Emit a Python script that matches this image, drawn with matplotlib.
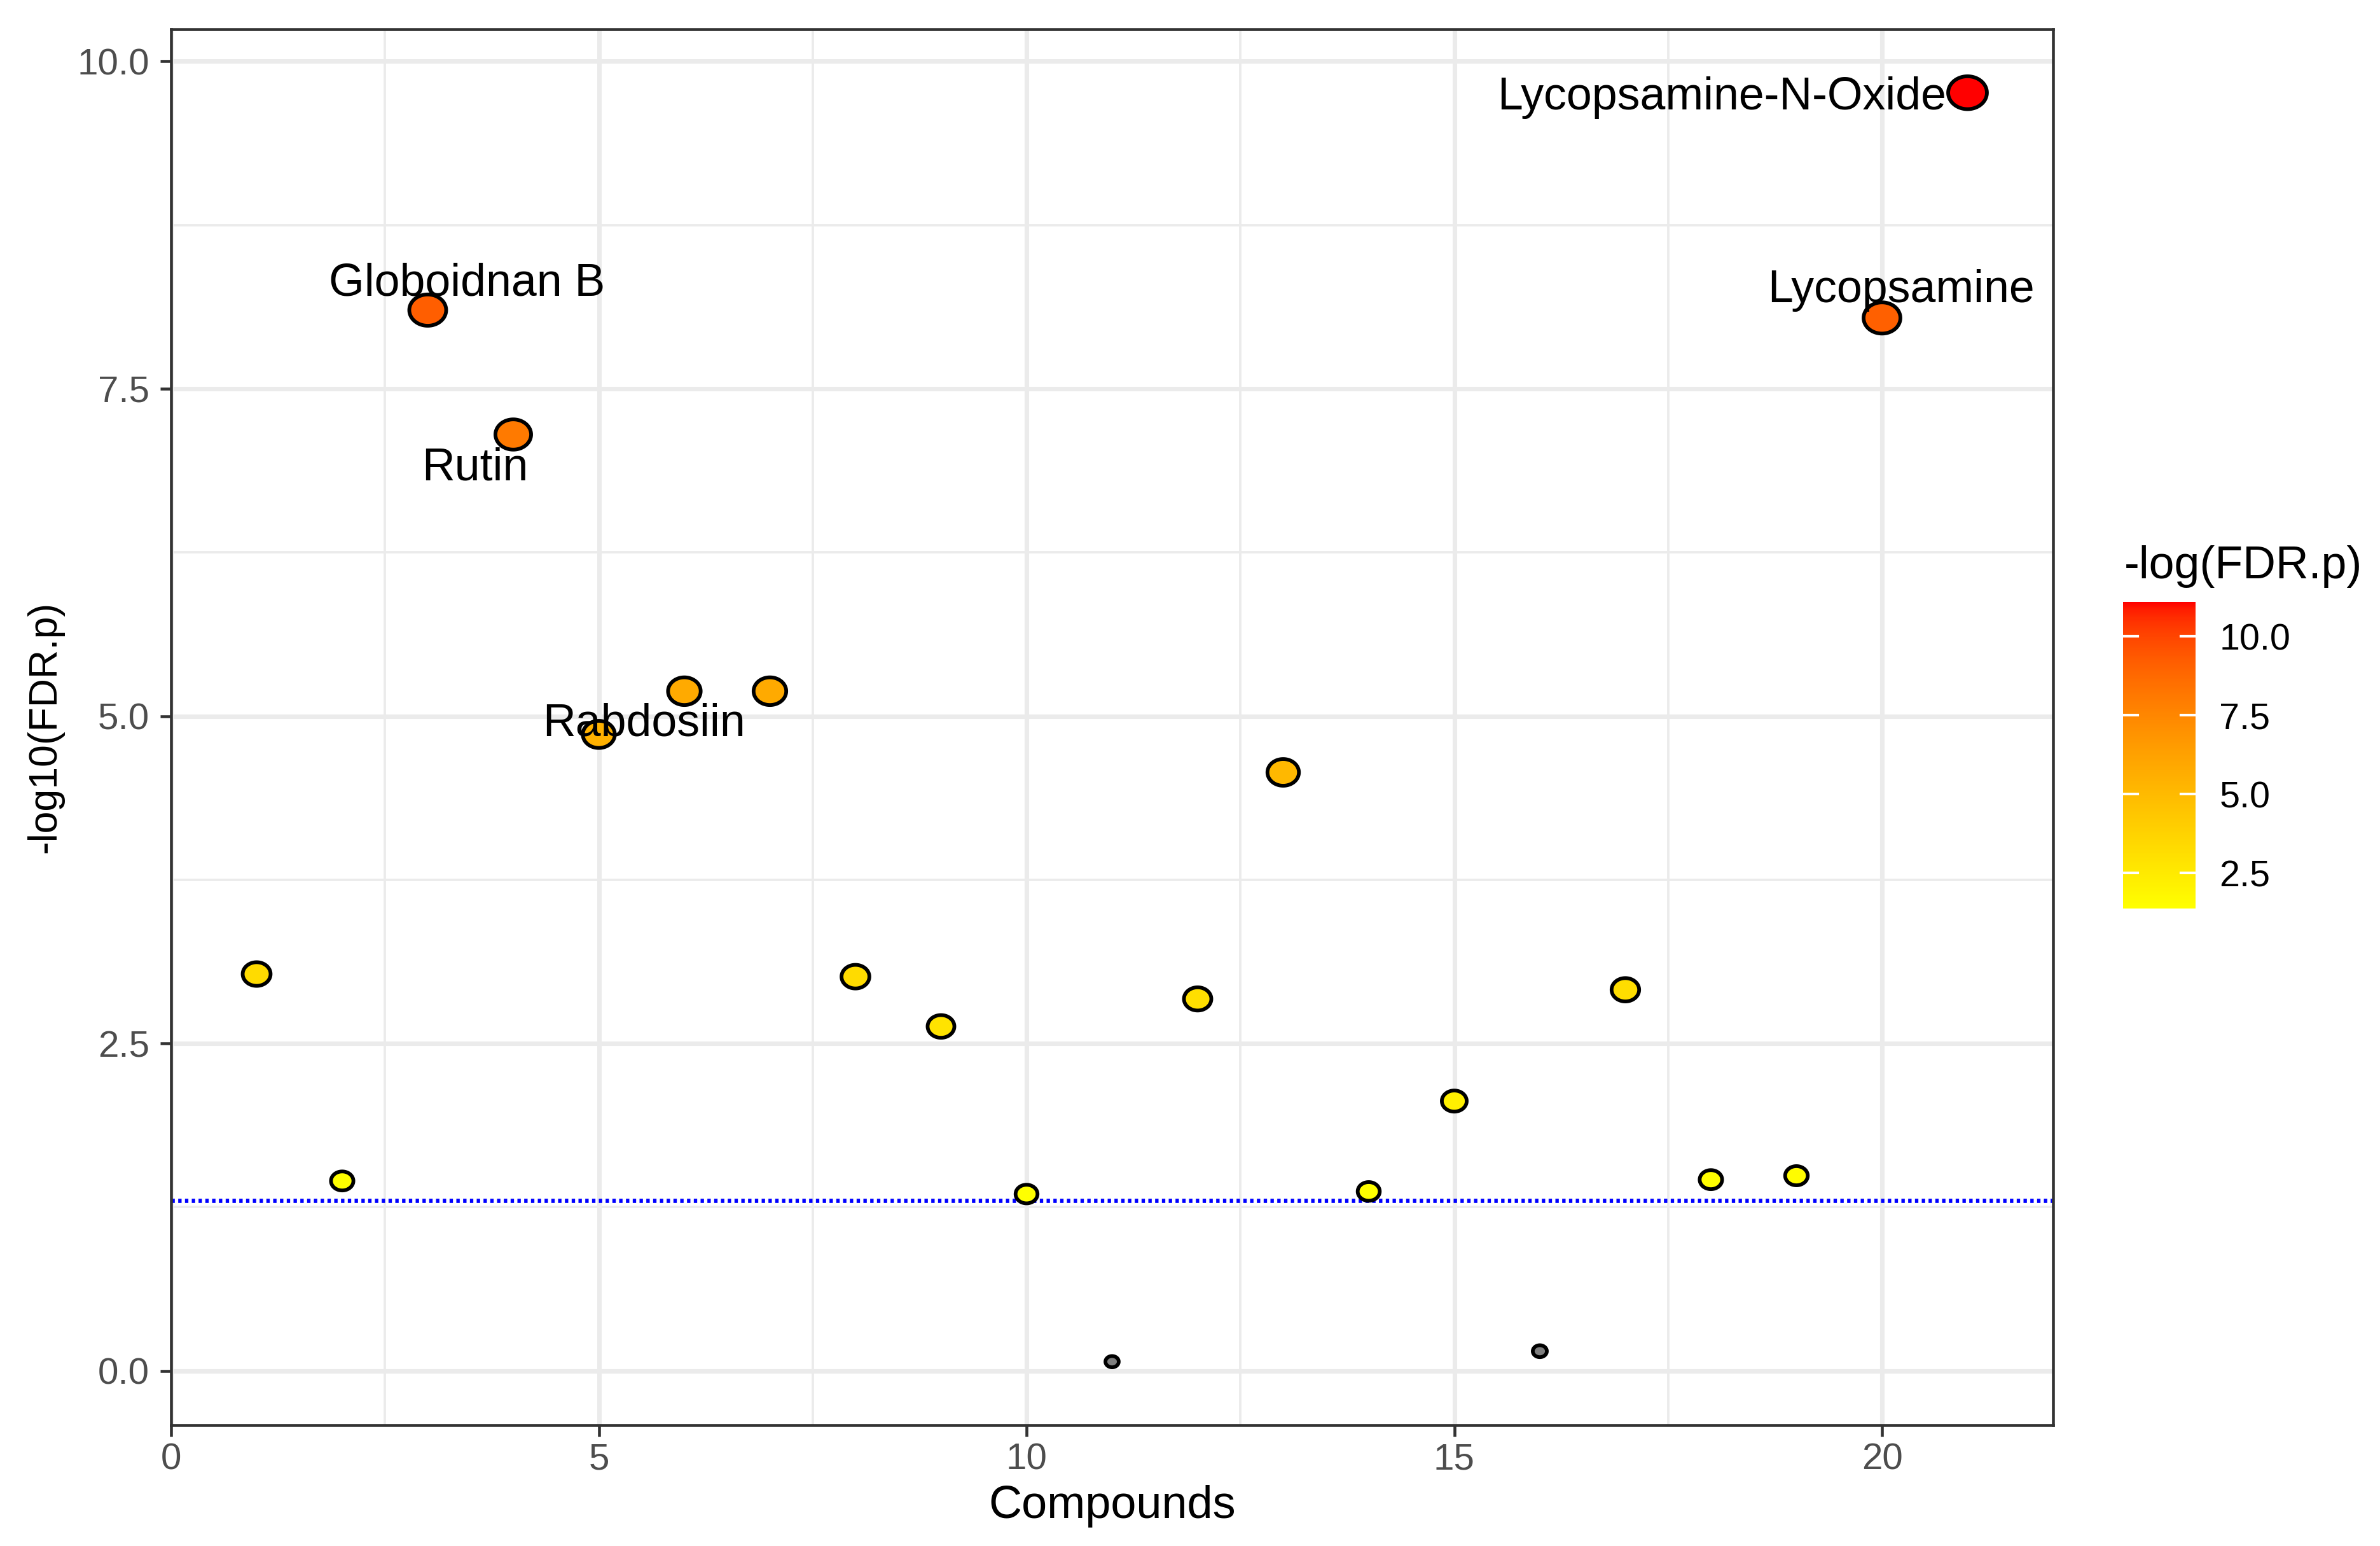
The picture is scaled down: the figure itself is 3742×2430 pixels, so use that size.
import numpy as np
import matplotlib
matplotlib.use("Agg")
import matplotlib.pyplot as plt
from matplotlib.path import Path
from matplotlib.colors import ListedColormap, Normalize
from matplotlib.cm import ScalarMappable
from matplotlib.ticker import MultipleLocator, FormatStrFormatter

plt.rcParams['font.family'] = ['Liberation Sans', 'DejaVu Sans']

# ---------------- data ----------------
compound_idx = list(range(1, 22))
neg_log10_fdr = [3.03, 1.45, 8.10, 7.15, 4.86, 5.19, 5.19, 3.01, 2.63, 1.35, 0.07,
                 2.84, 4.57, 1.37, 2.06, 0.15, 2.91, 1.46, 1.49, 8.04, 9.76]
neg_log_fdr_colour = [3.31, 1.48, 9.18, 8.09, 5.44, 5.82, 5.82, 3.30, 2.86, 1.37, np.nan,
                      3.10, 5.10, 1.40, 2.20, np.nan, 3.18, 1.51, 1.53, 9.11, 11.10]
compound_names = ['', '', 'Globoidnan B', 'Rutin', 'Rabdosiin', '', '', '', '', '', '',
                  '', '', '', '', '', '', '', '', 'Lycopsamine', 'Lycopsamine-N-Oxide']
fdr_cutoff = 0.05
xlim_range = (0, 22)
y_ticks = [0.0, 2.5, 5.0, 7.5, 10.0]
x_ticks = [0, 5, 10, 15, 20]
cbar_ticks = [2.5, 5.0, 7.5, 10.0]

x = np.array(compound_idx, dtype=float)
y = np.array(neg_log10_fdr)
cval = np.array(neg_log_fdr_colour)


# ---------------- colour scale: yellow -> red interpolated in CIE Lab ----------------
def srgb_to_lab(rgb):
    rgb = np.asarray(rgb, float)
    lin = np.where(rgb <= 0.04045, rgb / 12.92, ((rgb + 0.055) / 1.055) ** 2.4)
    M = np.array([[0.4124564, 0.3575761, 0.1804375],
                  [0.2126729, 0.7151522, 0.0721750],
                  [0.0193339, 0.1191920, 0.9503041]])
    xyz = M @ lin / np.array([0.95047, 1.0, 1.08883])
    f = np.where(xyz > 0.008856, np.cbrt(xyz), 7.787 * xyz + 16 / 116)
    return np.array([116 * f[1] - 16, 500 * (f[0] - f[1]), 200 * (f[1] - f[2])])


def lab_to_srgb(lab):
    L, a, b = lab
    fy = (L + 16) / 116
    fx = fy + a / 500
    fz = fy - b / 200
    f = np.array([fx, fy, fz])
    xyz = np.where(f ** 3 > 0.008856, f ** 3, (f - 16 / 116) / 7.787) * np.array([0.95047, 1.0, 1.08883])
    Minv = np.array([[3.2404542, -1.5371385, -0.4985314],
                     [-0.9692660, 1.8760108, 0.0415560],
                     [0.0556434, -0.2040259, 1.0572252]])
    lin = np.clip(Minv @ xyz, 0, 1)
    rgb = np.where(lin <= 0.0031308, 12.92 * lin, 1.055 * lin ** (1 / 2.4) - 0.055)
    return np.clip(rgb, 0, 1)


lab_lo = srgb_to_lab([1.0, 1.0, 0.0])
lab_hi = srgb_to_lab([1.0, 0.0, 0.0])
grad = [lab_to_srgb(lab_lo + t * (lab_hi - lab_lo)) for t in np.linspace(0, 1, 256)]
cmap = ListedColormap(grad)
norm = Normalize(vmin=np.nanmin(cval), vmax=np.nanmax(cval))
na_colour = '#7F7F7F'

face = [na_colour if np.isnan(v) else cmap(norm(v)) for v in cval]

# ellipse marker (reference is horizontally stretched)
stretch = 1.18
th = np.linspace(0, 2 * np.pi, 120)
ell = Path(np.column_stack([stretch * np.cos(th), np.sin(th)]), closed=True)
h_pt = 4.0 + 3.53 * np.log1p(y)
sizes = (stretch * h_pt) ** 2

# ---------------- figure ----------------
W, H, DPI = 3742, 2430, 300
fig = plt.figure(figsize=(W / DPI, H / DPI), dpi=DPI)
ax = fig.add_axes([269 / W, 1 - 2240 / H, (3228 - 269) / W, (2240 - 46) / H])

yr = np.nanmax(y) - np.nanmin(y)
ax.set_xlim(*xlim_range)
ax.set_ylim(np.nanmin(y) - 0.05 * yr, np.nanmax(y) + 0.05 * yr)

ax.xaxis.set_major_locator(MultipleLocator(5))
ax.xaxis.set_minor_locator(MultipleLocator(2.5))
ax.yaxis.set_major_locator(MultipleLocator(2.5))
ax.yaxis.set_minor_locator(MultipleLocator(1.25))
ax.set_xticks(x_ticks)
ax.set_yticks(y_ticks)
ax.yaxis.set_major_formatter(FormatStrFormatter('%.1f'))

ax.grid(which='major', color='#EBEBEB', linewidth=1.7, zorder=0)
ax.grid(which='minor', color='#EBEBEB', linewidth=0.9, zorder=0)
ax.set_axisbelow(True)
ax.tick_params(which='minor', length=0)
ax.tick_params(which='major', length=4.2, width=1.1, color='#333333',
               labelsize=14, labelcolor='#4D4D4D')
ax.tick_params(axis='x', pad=2.5)
ax.tick_params(axis='y', pad=4)
for sp in ax.spines.values():
    sp.set_color('#333333')
    sp.set_linewidth(1.1)

ax.axhline(-np.log10(fdr_cutoff), color='blue', linestyle=(0, (0.8, 0.8)), linewidth=1.6, zorder=2)

ax.scatter(x, y, s=sizes, c=face, marker=ell, edgecolors='black', linewidths=1.4, zorder=3)

# labels
lab_fs = 17.2
label_offsets = {
    'Globoidnan B': (0.46, 0.23, 'center'),
    'Rutin': (-0.45, -0.23, 'center'),
    'Rabdosiin': (0.53, 0.11, 'center'),
    'Lycopsamine': (0.22, 0.24, 'center'),
    'Lycopsamine-N-Oxide': (-0.25, -0.01, 'right'),
}
for xi, yi, name in zip(x, y, compound_names):
    if not name:
        continue
    dx, dy, ha = label_offsets[name]
    ax.annotate(name, xy=(xi + dx, yi + dy), xytext=(0, -0.34 * lab_fs),
                textcoords='offset points', ha=ha, va='baseline',
                fontsize=lab_fs, color='black', zorder=4)

ax.set_xlabel('Compounds', fontsize=17.3, labelpad=3)
ax.set_ylabel('-log10(FDR.p)', fontsize=15, labelpad=5)

# ---------------- colour bar ----------------
cax = fig.add_axes([3338 / W, 1 - 1428 / H, (3452 - 3338) / W, (1428 - 946) / H])
sm = ScalarMappable(norm=norm, cmap=cmap)
cb = fig.colorbar(sm, cax=cax)
cb.outline.set_visible(False)
cb.set_ticks(cbar_ticks)
cb.set_ticklabels([f'{t:.1f}' for t in cbar_ticks])
cax.tick_params(length=0, pad=9, labelsize=13.8, labelcolor='black')
tr = cax.get_yaxis_transform()
for t in cbar_ticks:
    cax.plot([0, 0.2], [t, t], color='white', linewidth=1.0, transform=tr, zorder=5)
    cax.plot([0.8, 1.0], [t, t], color='white', linewidth=1.0, transform=tr, zorder=5)
fig.text(3340 / W, 1 - 909 / H, '-log(FDR.p)', fontsize=17.2, ha='left', va='baseline')

fig.savefig('out.png', dpi=DPI, facecolor='white')
